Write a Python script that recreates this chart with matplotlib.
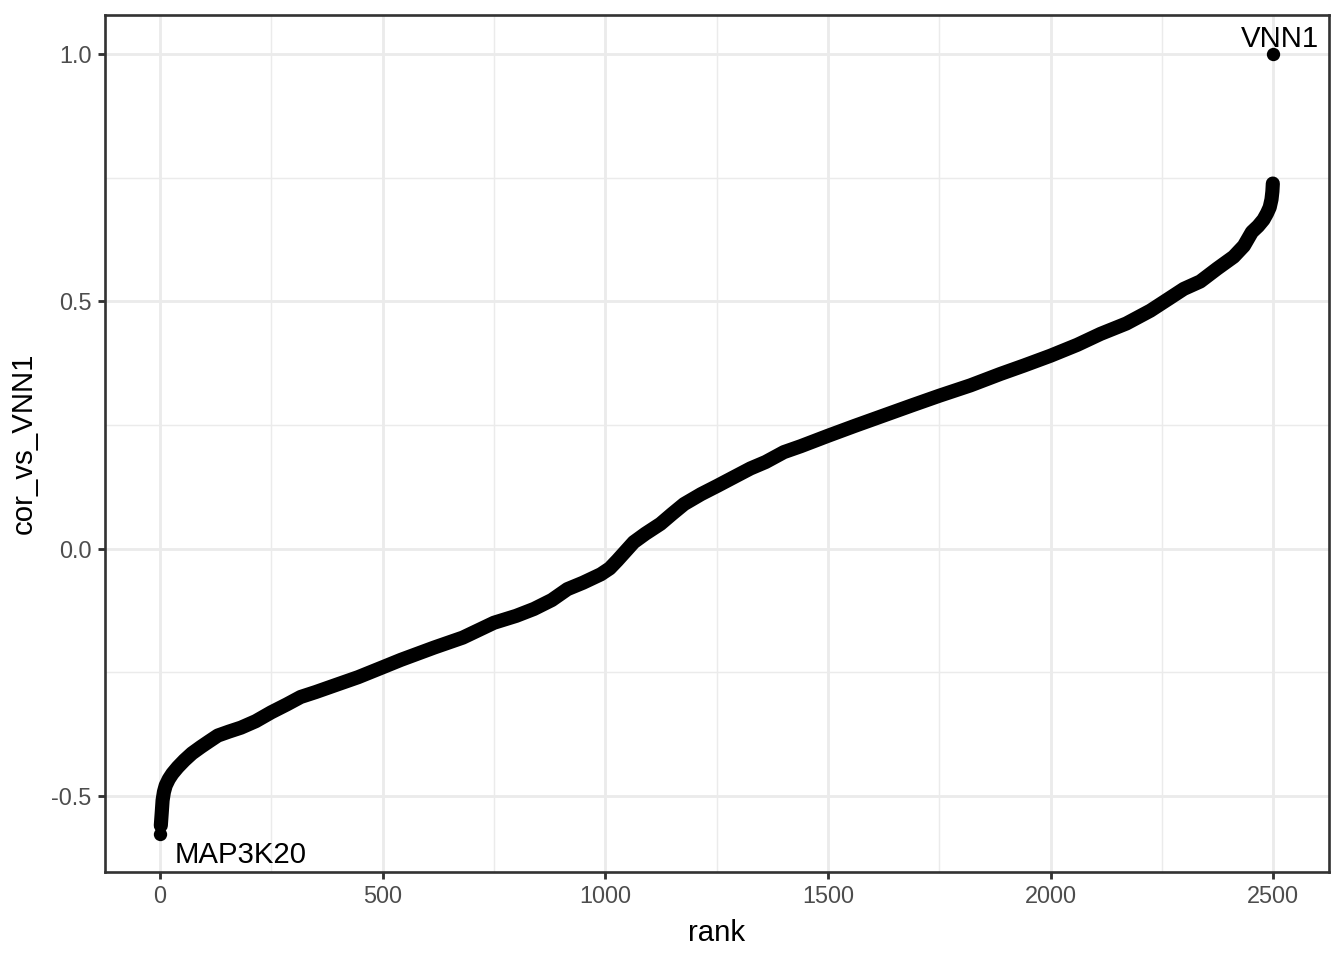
import matplotlib
matplotlib.use("Agg")
import matplotlib.pyplot as plt
from matplotlib.ticker import MultipleLocator

plt.rcParams['font.family'] = ['Liberation Sans', 'DejaVu Sans']

# ---- data ----
body_rank = [2, 4, 6, 9, 13, 20, 28, 40, 55, 72, 92, 110, 130, 155, 182, 215, 250,
             285, 316, 350, 391, 445, 500, 541, 616, 680, 750, 800, 840, 880, 915,
             950, 990, 1010, 1027, 1045, 1064, 1090, 1124, 1150, 1177, 1215, 1252,
             1290, 1326, 1360, 1401, 1439, 1500, 1560, 1625, 1690, 1750, 1820, 1887,
             1940, 2000, 2060, 2112, 2170, 2224, 2265, 2299, 2336, 2374, 2411, 2434,
             2452, 2466, 2478, 2486, 2492, 2496, 2498, 2499]
body_val = [-0.560, -0.535, -0.509, -0.492, -0.479, -0.466, -0.455, -0.442, -0.428,
            -0.414, -0.401, -0.390, -0.378, -0.370, -0.362, -0.349, -0.331, -0.315,
            -0.300, -0.290, -0.277, -0.260, -0.240, -0.225, -0.200, -0.180, -0.150,
            -0.136, -0.122, -0.104, -0.082, -0.069, -0.052, -0.040, -0.024, -0.006,
            0.013, 0.030, 0.050, 0.070, 0.090, 0.110, 0.127, 0.145, 0.162, 0.175,
            0.195, 0.207, 0.228, 0.248, 0.269, 0.290, 0.309, 0.330, 0.353, 0.370,
            0.390, 0.412, 0.434, 0.455, 0.481, 0.505, 0.525, 0.540, 0.566, 0.590,
            0.612, 0.640, 0.652, 0.665, 0.678, 0.690, 0.706, 0.722, 0.738]
label_rank = [1, 2500]
label_val = [-0.578, 1.0]
label_text = ["MAP3K20", "VNN1"]

fig = plt.figure(figsize=(7, 5), dpi=192)
ax = fig.add_axes([0.0779, 0.0917, 0.9109, 0.8927])

grid_c = '#EBEBEB'
ax.set_facecolor('white')
ax.set_xlim(-124, 2625)
ax.set_ylim(-0.6538, 1.0788)
ax.xaxis.set_major_locator(MultipleLocator(500))
ax.xaxis.set_minor_locator(MultipleLocator(250))
ax.yaxis.set_major_locator(MultipleLocator(0.5))
ax.yaxis.set_minor_locator(MultipleLocator(0.25))
ax.grid(which='major', color=grid_c, lw=1.07, zorder=0)
ax.grid(which='minor', color=grid_c, lw=0.53, zorder=0)
ax.set_axisbelow(True)

ax.plot(body_rank, body_val, color='black', lw=5.3, solid_capstyle='round',
        solid_joinstyle='round', zorder=3)
ax.scatter(label_rank, label_val, s=5.0 ** 2, color='black', zorder=4, linewidths=0)

ax.text(label_rank[0] + 33, -0.635, label_text[0], ha='left', va='baseline',
        fontsize=11, color='black')
ax.text(2516, 1.014, label_text[1], ha='center', va='baseline',
        fontsize=11, color='black')

ax.set_yticks([-0.5, 0.0, 0.5, 1.0])
ax.set_yticklabels(['-0.5', '0.0', '0.5', '1.0'])
ax.tick_params(which='major', length=2.75, width=1.07, color='#333333',
               labelsize=8.8, labelcolor='#4D4D4D', pad=2.2)
ax.tick_params(which='minor', length=0)
for s in ax.spines.values():
    s.set_color('#333333')
    s.set_linewidth(1.0)

ax.set_xlabel('rank', fontsize=11, color='black', labelpad=4)
ax.set_ylabel('cor_vs_VNN1', fontsize=11, color='black', labelpad=5)

fig.savefig('out.png', dpi=192, facecolor='white')
